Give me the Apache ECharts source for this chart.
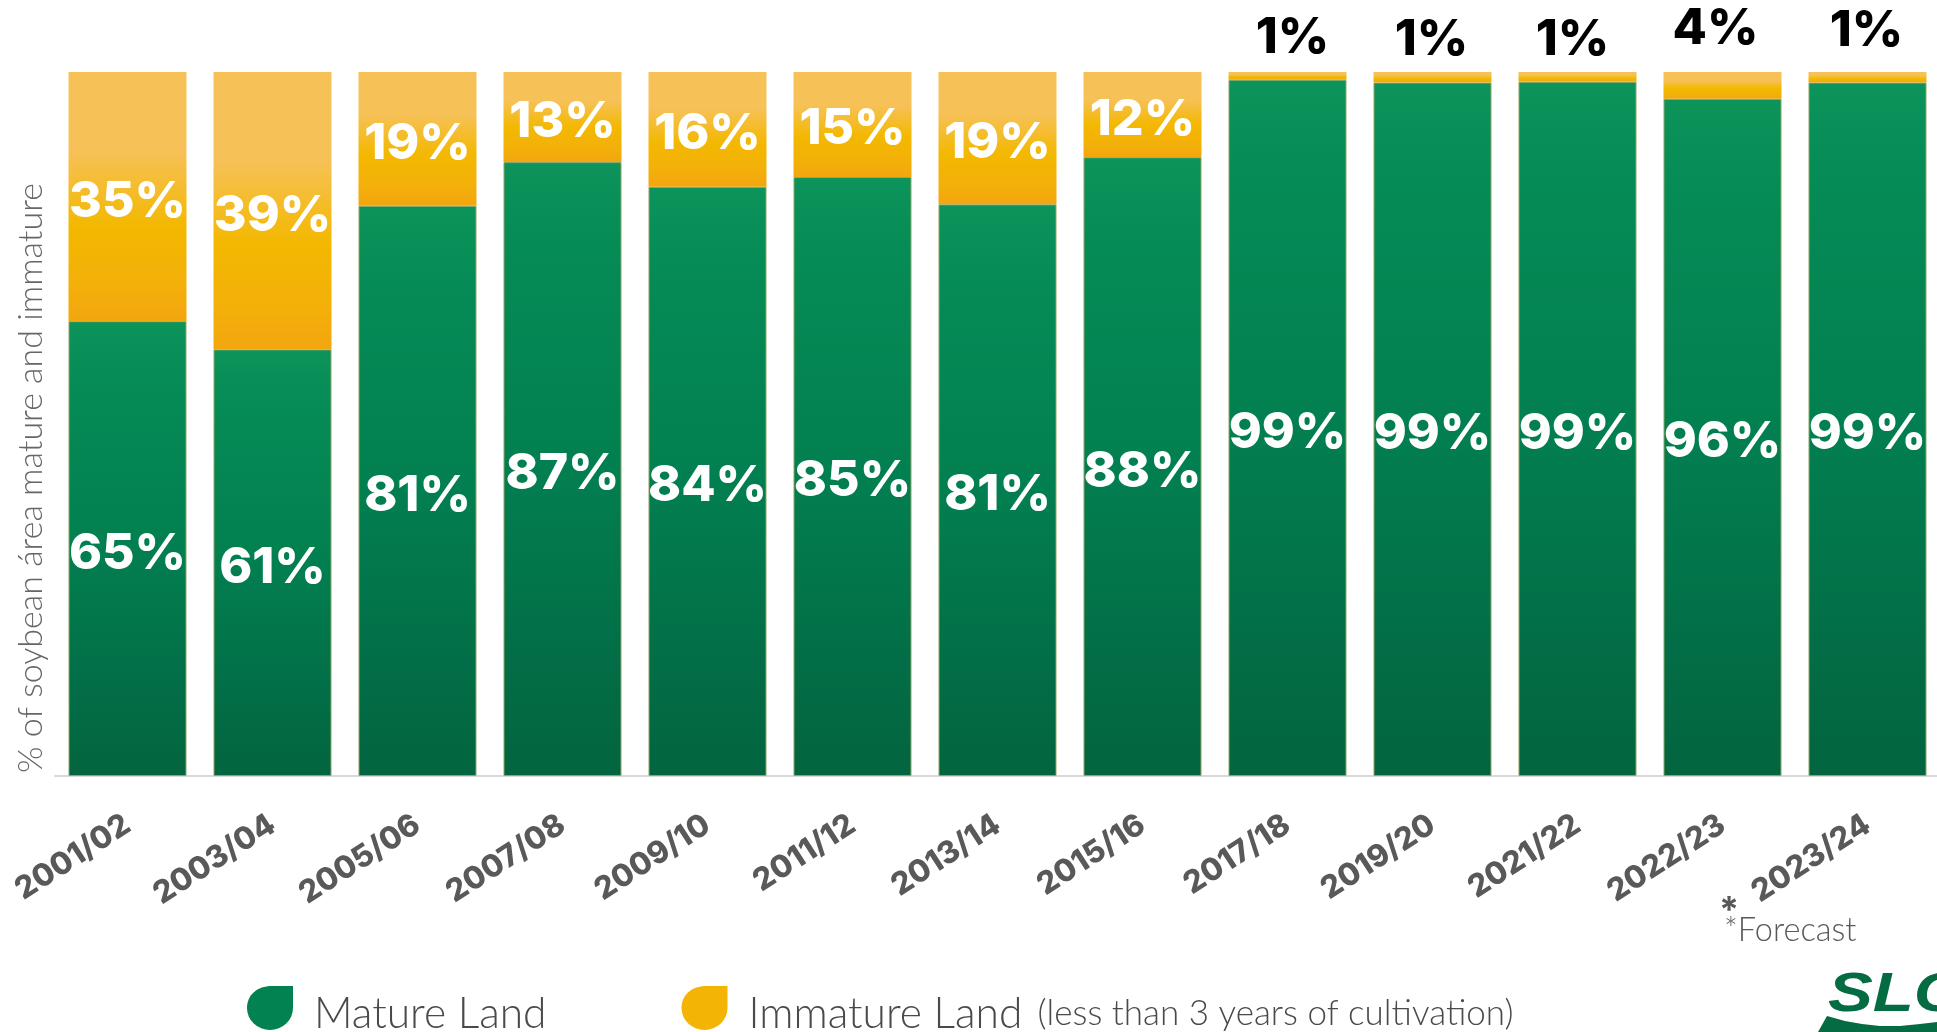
<!DOCTYPE html>
<html><head><meta charset="utf-8">
<style>html,body{margin:0;padding:0;background:#fff}#c{width:1937px;height:1032px}</style>
<script src="https://cdn.jsdelivr.net/npm/echarts@6/dist/echarts.min.js"></script>
</head><body><div id="c"></div>
<script>
const categories=['2001/02','2003/04','2005/06','2007/08','2009/10','2011/12','2013/14','2015/16','2017/18','2019/20','2021/22','2022/23','2023/24'];
const matureValues=[64.6,60.6,81.0,87.2,83.7,85.1,81.2,87.9,98.9,98.5,98.6,96.2,98.5];
const immatureValues=[35.4,39.4,19.0,12.8,16.3,14.9,18.8,12.1,1.1,1.5,1.4,3.8,1.5];
const matureLabels=['65%','61%','81%','87%','84%','85%','81%','88%','99%','99%','99%','96%','99%'];
const immatureLabels=['35%','39%','19%','13%','16%','15%','19%','12%','1%','1%','1%','4%','1%'];
const aboveBarFrom=8;
const aboveBarGap=[0,0,0,0,0,0,0,0,9,7,7,18,16];
const aboveBarShift=[0,0,0,0,0,0,0,0,5,-1,-5,-7,-1];

const FS="Inter";
const THIN="Lato";
const vgrad=(stops)=>new echarts.graphic.LinearGradient(0,0,0,1,stops.map(([o,c])=>({offset:o,color:c})));
const green=vgrad([[0,'#0C945B'],[0.12,'#068C56'],[0.5,'#027F50'],[0.8,'#026E47'],[1,'#02653F']]);
const gold=vgrad([[0,'#F6C157'],[0.32,'#F6C157'],[0.62,'#F3B800'],[0.85,'#F3B00A'],[1,'#F3A60F']]);

const chart=echarts.init(document.getElementById('c'),null,{renderer:'canvas'});
chart.setOption({
  animation:false,
  backgroundColor:'#fff',
  grid:{left:55,top:72,width:1885,height:704,containLabel:false,outerBoundsMode:'none'},
  legend:{
    left:242,top:981,itemWidth:46,itemHeight:44,itemGap:135,
    data:[
      {name:'Mature Land',icon:'path://M46 0 V22 A23 22 0 0 1 0 22 C0 9 10 0 25 0 Z',itemStyle:{color:'#038251',borderWidth:0}},
      {name:'Immature Land',icon:'path://M46 0 V22 A23 22 0 0 1 0 22 C0 9 10 0 25 0 Z',itemStyle:{color:'#F3B405',borderWidth:0}}
    ],
    formatter:n=>n==='Immature Land'?'{a|Immature Land}{s| }{b|(less than 3 years of cultivation)}':'{a|Mature Land}',
    textStyle:{padding:[12,0,0,16],rich:{
      a:{fontFamily:THIN,fontSize:42.5,fontWeight:300,color:'#4a4a4a'},
      s:{fontFamily:THIN,fontSize:56,fontWeight:300},
      b:{fontFamily:THIN,fontSize:35,fontWeight:300,color:'#4a4a4a'}
    }}
  },
  xAxis:{type:'category',data:categories,
    axisTick:{show:false},
    axisLine:{lineStyle:{color:'#d9d9d9',width:2}},
    axisLabel:{rotate:33,interval:0,margin:46,fontFamily:FS,fontWeight:800,fontSize:31,color:'#595959'}
  },
  yAxis:{type:'value',min:0,max:100,
    axisLabel:{show:false},axisTick:{show:false},axisLine:{show:false},splitLine:{show:false},
    name:'% of soybean área mature and immature',nameLocation:'middle',nameGap:7,
    nameTextStyle:{fontFamily:THIN,fontWeight:300,fontSize:34,color:'#666666',padding:[0,108,0,0]}
  },
  series:[
    {name:'Mature Land',type:'bar',stack:'a',barWidth:118,
     itemStyle:{color:green,borderColor:'#8DA565',borderWidth:1},
     data:matureValues.map((v,i)=>({value:v,label:{formatter:matureLabels[i]}})),
     label:{show:true,position:'inside',offset:[0,5],fontFamily:FS,fontWeight:800,fontSize:50,color:'#fff'}},
    {name:'Immature Land',type:'bar',stack:'a',barWidth:118,
     itemStyle:{color:gold},
     data:immatureValues.map((v,i)=>({value:v,label:i>=aboveBarFrom
        ?{formatter:immatureLabels[i],position:'top',offset:[aboveBarShift[i],0],distance:aboveBarGap[i],color:'#000'}
        :{formatter:immatureLabels[i]}})),
     label:{show:true,position:'inside',offset:[0,5],fontFamily:FS,fontWeight:800,fontSize:50,color:'#fff'}}
  ],
  graphic:[
    {type:'text',left:1719,top:893,style:{text:'*',font:'700 36px '+FS,fill:'#595959'}},
    {type:'text',left:1724,top:914,style:{text:'*Forecast',font:'300 32.5px '+THIN,fill:'#595959'}},
    {type:'text',x:1828,y:968,scaleX:1.2,style:{text:'SLC',font:'italic 900 56px "Liberation Sans"',fill:'#056B42'}},
    {type:'polygon',shape:{points:[[1818,1032],[1827,1016],[1845,1021],[1862,1024],[1880,1026],[1900,1026],[1920,1024],[1937,1022],[1937,1032]]},style:{fill:'#056B42'},silent:true}
  ]
});
</script></body></html>
